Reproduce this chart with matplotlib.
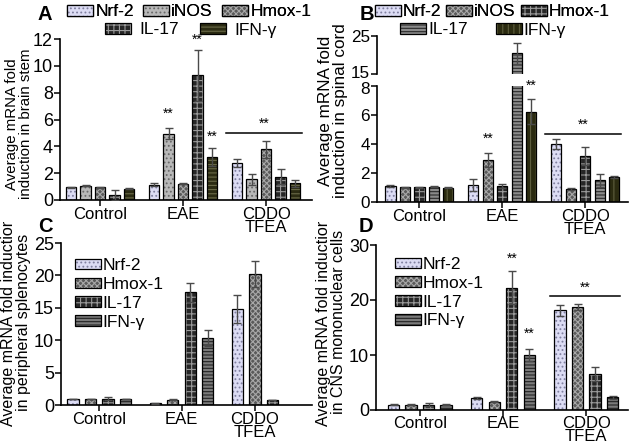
import numpy as np
import matplotlib
matplotlib.use("Agg")
from matplotlib import pyplot as plt
from matplotlib.patches import Patch
from matplotlib.legend_handler import HandlerTuple
from matplotlib.transforms import Bbox, TransformedBbox, ScaledTranslation

plt.rcParams["font.family"] = ["Liberation Sans", "DejaVu Sans"]
plt.rcParams["hatch.linewidth"] = 0.8

# categories
groups = ["Control", "EAE", "CDDO\nTFEA"]
genes_ab = ["Nrf-2", "iNOS", "Hmox-1", "IL-17", "IFN-γ"]
genes_cd = ["Nrf-2", "Hmox-1", "IL-17", "IFN-γ"]

# A: brain stem (rows = groups, cols = genes_ab)
a_mean = [[0.95, 1.05, 0.95, 0.37, 0.85],
          [1.15, 4.95, 1.2, 9.3, 3.2],
          [2.75, 1.55, 3.78, 1.73, 1.24]]
a_err = [[0.05, 0.04, 0.04, 0.35, 0.05],
         [0.08, 0.4, 0.03, 1.9, 0.7],
         [0.3, 0.4, 0.65, 0.56, 0.25]]

# B: spinal cord
b_mean = [[1.09, 1.0, 1.0, 1.05, 0.98],
          [1.16, 2.88, 1.09, 20.4, 6.23],
          [4.0, 0.9, 3.19, 1.5, 1.72]]
b_err = [[0.06, 0.03, 0.03, 0.03, 0.03],
         [0.4, 0.5, 0.12, 2.8, 0.85],
         [0.35, 0.05, 0.63, 0.45, 0.05]]

# C: peripheral splenocytes (cols = genes_cd); IFN-γ missing for CDDO
c_mean = [[0.9, 0.9, 1.0, 0.9],
          [0.26, 0.8, 17.4, 10.3],
          [14.85, 20.15, 0.75, None]]
c_err = [[0.05, 0.05, 0.3, 0.05],
         [0.03, 0.05, 1.5, 1.2],
         [2.15, 2.0, 0.05, None]]

# D: CNS mononuclear cells
d_mean = [[1.0, 1.0, 1.0, 1.0],
          [2.15, 1.5, 22.2, 10.05],
          [18.1, 18.7, 6.6, 2.3]]
d_err = [[0.05, 0.05, 0.25, 0.1],
         [0.2, 0.05, 3.0, 1.1],
         [1.0, 0.55, 1.3, 0.3]]

# significance marks: (group, gene, y)
a_stars = [(1, 1, 5.9), (1, 3, 11.4), (1, 4, 4.2)]
b_stars = [(1, 1, 3.85), (1, 4, 7.55)]
b_stars_top = [(1, 3, 24.2)]
d_stars = [(1, 2, 26.3), (1, 3, 12.5)]
a_line, b_line, d_line = 5.0, 4.7, 20.7

# bar styles: facecolor, hatch, hatch colour
LAV = ("#dcdcf4", "....", "#8080a0")
DOTGRAY = ("#b8b8b8", "....", "#6a6a6a")
MESH = ("#5a5a5a", "xxxxxx", "#a8a8a8")
CHECK = ("#262626", "+++", "#9a9a9a")
OLIVE_H = ("#2b2b12", "----", "#6a6a48")
OLIVE_V = ("#2b2b10", "|||", "#5e5e3e")
GRAY_H = ("#8a8a8a", "-----", "#2a2a2a")
GRAY_H2 = ("#7a7a7a", "-----", "#222222")

styles_a = [LAV, DOTGRAY, MESH, CHECK, OLIVE_H]
styles_b = [LAV, MESH, CHECK, GRAY_H, OLIVE_V]
styles_cd = [LAV, MESH, CHECK, GRAY_H2]


def draw_bars(ax, mean, err, styles, gstep, width):
    centers = []
    for g, (row, erow) in enumerate(zip(mean, err)):
        xs = []
        for i, (m, e) in enumerate(zip(row, erow)):
            if m is None:
                continue
            x = g * gstep + i
            xs.append(x)
            fc, hatch, hc = styles[i]
            ax.bar(x, m, width, color=fc, hatch=hatch, edgecolor=hc, linewidth=0, zorder=2)
            ax.bar(x, m, width, fill=False, edgecolor="black", linewidth=0.9, zorder=3)
            ax.errorbar(x, m, yerr=e, color="#4a4a4a", lw=1, capsize=3, capthick=1, zorder=4)
        centers.append(np.mean(xs))
    return centers


def handles(styles):
    out = []
    for fc, hatch, hc in styles:
        out.append((Patch(facecolor=fc, hatch=hatch, edgecolor=hc, linewidth=0),
                    Patch(fill=False, edgecolor="black", linewidth=0.9)))
    return out


def style_axis(ax, bottom=True, ysize=13):
    for s in ["top", "right"]:
        ax.spines[s].set_visible(False)
    ax.spines["left"].set_linewidth(1.2)
    ax.spines["bottom"].set_linewidth(1.2)
    ax.tick_params(axis="y", labelsize=ysize, length=4, width=1.1, pad=1)
    ax.tick_params(axis="x", labelsize=12, length=4, width=1.1, pad=1)
    if not bottom:
        ax.spines["bottom"].set_visible(False)
        ax.tick_params(axis="x", bottom=False, labelbottom=False)


def stars(ax, marks, gstep, size=10):
    for g, i, y in marks:
        ax.text(g * gstep + i, y, "**", ha="center", va="bottom", fontsize=size)


fig = plt.figure(figsize=(6.3, 4.45), dpi=100)
W, H = 630, 445


def rect(x0, y0, x1, y1):
    return [x0 / W, 1 - y1 / H, (x1 - x0) / W, (y1 - y0) / H]


leg_kw = dict(frameon=False, fontsize=12.5, handlelength=1.5, handleheight=0.55,
              borderpad=0, handler_map={tuple: HandlerTuple(ndivide=1)})

# ---- A
gs_ab = 5.72
axA = fig.add_axes(rect(60, 39, 312, 200))
cA = draw_bars(axA, a_mean, a_err, styles_a, gs_ab, 0.72)
axA.set_ylim(0, 12)
axA.set_yticks(range(0, 13, 2))
axA.set_xlim(-0.76, 16.6)
axA.set_xticks(cA)
axA.set_xticklabels(groups, linespacing=0.85)
style_axis(axA)
stars(axA, a_stars, gs_ab)
axA.plot([2 * gs_ab - 0.75, 2 * gs_ab + 4.45], [a_line] * 2, color="black", lw=1.1)
axA.text(2 * gs_ab + 1.85, a_line + 0.15, "**", ha="center", va="bottom", fontsize=10)

hA = handles(styles_a)
lg1 = fig.legend(hA[:3], genes_ab[:3], ncol=3, loc="center", bbox_to_anchor=(189 / W, 1 - 12 / H),
                 handletextpad=0.15, columnspacing=0.5, **leg_kw)
lg2 = fig.legend(hA[3:], genes_ab[3:], ncol=2, loc="center", bbox_to_anchor=(191 / W, 1 - 30 / H),
                 handletextpad=0.5, columnspacing=1.2, **leg_kw)
fig.add_artist(lg1)

# ---- B (broken axis)
axBt = fig.add_axes(rect(377, 36, 628, 74))
axBb = fig.add_axes(rect(377, 86, 628, 202))
for ax in (axBt, axBb):
    cB = draw_bars(ax, b_mean, b_err, styles_b, gs_ab, 0.7)
    ax.set_xlim(-0.93, 16.4)
    ax.set_xticks(cB)
axBt.set_ylim(15, 25)
axBt.set_yticks([15, 25])
axBb.set_ylim(0, 8)
axBb.set_yticks(range(0, 9, 2))
axBb.set_xticklabels(groups, linespacing=0.85)
style_axis(axBt, bottom=False, ysize=12.3)
style_axis(axBb, ysize=12.3)
# nudge the labels at the axis break apart a little
up = ScaledTranslation(0, 2 / 100, fig.dpi_scale_trans)
down = ScaledTranslation(0, -2 / 100, fig.dpi_scale_trans)
lab15 = axBt.get_yticklabels()[0]
lab15.set_transform(lab15.get_transform() + up)
lab8 = axBb.get_yticklabels()[-1]
lab8.set_transform(lab8.get_transform() + down)
stars(axBb, b_stars, gs_ab)
stars(axBt, b_stars_top, gs_ab)
axBb.plot([2 * gs_ab - 0.75, 2 * gs_ab + 4.45], [b_line] * 2, color="black", lw=1.1)
axBb.text(2 * gs_ab + 1.85, b_line + 0.15, "**", ha="center", va="bottom", fontsize=10)

hB = handles(styles_b)
lg3 = fig.legend(hB[:3], genes_ab[:3], ncol=3, loc="center", bbox_to_anchor=(492 / W, 1 - 12 / H),
                 handletextpad=0.1, columnspacing=0.3, **leg_kw)
lg4 = fig.legend(hB[3:], genes_ab[3:], ncol=2, loc="center", bbox_to_anchor=(483 / W, 1 - 30 / H),
                 handletextpad=0.1, columnspacing=1.6, **leg_kw)
fig.add_artist(lg3)

# ---- C
gs_cd = 4.7
axC = fig.add_axes(rect(61, 243, 312, 405))
cC = draw_bars(axC, c_mean, c_err, styles_cd, gs_cd, 0.65)
axC.set_ylim(0, 25)
axC.set_yticks(range(0, 26, 5))
axC.set_xlim(-0.69, 13.66)
axC.set_xticks(cC)
axC.set_xticklabels(groups, linespacing=0.85)
style_axis(axC)
axC.legend(handles(styles_cd), genes_cd, loc="upper left", bbox_to_anchor=(0.02, 0.96),
           handletextpad=0.1, labelspacing=0.22, **leg_kw)

# ---- D
gs_d = 4.76
axD = fig.add_axes(rect(376, 245, 628, 410))
cD = draw_bars(axD, d_mean, d_err, styles_cd, gs_d, 0.65)
axD.set_ylim(0, 30)
axD.set_yticks(range(0, 31, 10))
axD.set_xlim(-1.0, 13.4)
axD.set_xticks(cD)
axD.set_xticklabels(groups, linespacing=0.85)
style_axis(axD)
axD.tick_params(axis="x", pad=0)
stars(axD, d_stars, gs_d)
axD.plot([2 * gs_d - 0.55, 2 * gs_d + 3.45], [d_line] * 2, color="black", lw=1.1)
axD.text(2 * gs_d + 1.45, d_line + 0.3, "**", ha="center", va="bottom", fontsize=10)
axD.legend(handles(styles_cd), genes_cd, loc="upper left", bbox_to_anchor=(0.04, 0.98),
           handletextpad=0.1, labelspacing=0.22, **leg_kw)

# ---- y labels
lab_kw = dict(rotation=90, ha="center", va="center", linespacing=0.95)
fig.text(19 / W, 1 - 124 / H, "Average mRNA fold\ninduction in brain stem", fontsize=10.8, **lab_kw)
fig.text(333 / W, 1 - 111 / H, "Average mRNA fold\ninduction in spinal cord", fontsize=12.3, **lab_kw)
clip = TransformedBbox(Bbox([[0, 0], [1, 1 - 222 / H]]), fig.transFigure)
for x, txt in [(16, "Average mRNA fold induction\nin peripheral splenocytes"),
               (331, "Average mRNA fold induction\nin CNS mononuclear cells")]:
    t = fig.text(x / W, 1 - 322 / H, txt, fontsize=11.5, **lab_kw)
    t.set_clip_on(True)
    t.set_clip_box(clip)

# panel letters
for x, y, s in [(45, 15, "A"), (367, 15, "B"), (45, 227, "C"), (366, 227, "D")]:
    fig.text(x / W, 1 - y / H, s, fontsize=14.5, fontweight="bold", ha="center", va="center")

fig.savefig("out.png", dpi=100)
